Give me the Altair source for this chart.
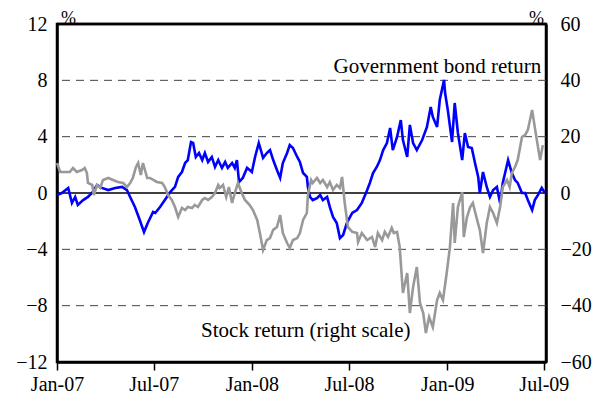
import altair as alt
import pandas as pd

BASE = "2007-01-01"

# Government bond return (left scale, %), days since 2007-01-01
bond_days = [0, 9, 21, 28, 34, 39, 49, 58, 67, 75, 84, 96, 109, 122, 131, 137, 146, 155, 163, 170,
             180, 184, 193, 202, 212, 221, 227, 234, 240, 245, 251, 255, 260, 266, 272, 277, 283, 290,
             296, 302, 309, 315, 320, 328, 333, 337, 341, 348, 356, 361, 365, 371, 378, 386, 393, 399,
             405, 412, 418, 423, 431, 436, 442, 450, 455, 461, 468, 470, 474, 479, 487, 493, 498, 506,
             511, 517, 524, 530, 536, 543, 553, 562, 571, 581, 586, 592, 599, 605, 611, 618, 624, 629,
             637, 644, 648, 656, 661, 667, 674, 684, 693, 700, 704, 712, 717, 725, 727, 732, 740, 745,
             751, 759, 764, 770, 777, 783, 789, 792, 798, 805, 811, 817, 824, 830, 835, 845, 852, 858,
             863, 871, 877, 882, 890, 895, 901, 908, 914]
bond_values = [-0.14, 0.0, 0.36, -0.71, -0.28, -0.85, -0.5, -0.28, 0.07, 0.57, 0.36, 0.21, 0.36, 0.43,
               0.21, -0.28, -0.99, -1.92, -2.77, -2.13, -1.35, -1.42, -0.99, -0.5, 0.07, 0.43, 1.14,
               1.49, 2.13, 2.34, 3.62, 3.55, 2.56, 2.84, 2.34, 2.84, 2.2, 2.56, 1.85, 2.34, 1.78, 2.2,
               1.78, 2.13, 1.78, 2.34, 0.78, 1.07, 1.78, 1.63, 1.49, 2.56, 3.55, 2.49, 2.84, 3.05, 2.34,
               1.63, 1.07, 2.13, 2.84, 3.41, 3.2, 2.56, 2.2, 1.42, 1.14, 0.43, -0.28, -0.5, -0.36, -0.14,
               -0.5, -0.28, -0.99, -1.7, -2.13, -3.2, -2.98, -2.13, -1.42, -1.21, -0.71, 0.21, 0.71,
               1.42, 1.85, 2.34, 3.05, 3.55, 4.62, 3.05, 3.98, 5.18, 3.76, 2.56, 4.83, 3.55, 3.05, 3.76,
               4.69, 6.11, 5.4, 4.69, 6.6, 8.03, 7.1, 5.9, 3.62, 6.39, 4.26, 2.34, 4.26, 3.27, 3.2, 2.13,
               1.14, 0.0, 1.49, 0.43, -0.28, 0.21, 0.43, -0.71, 0.71, 2.34, 1.42, 0.92, 0.71, 0.0, 0.0,
               -0.5, -1.21, -0.5, -0.14, 0.36, 0.0]

# Stock return (right scale, %), days since 2007-01-01
stock_days = [0, 6, 15, 24, 30, 37, 47, 52, 56, 58, 66, 69, 75, 81, 86, 96, 105, 114, 124, 131, 137,
              142, 148, 152, 157, 161, 169, 174, 187, 197, 202, 208, 215, 221, 227, 234, 240, 245, 253,
              258, 264, 272, 277, 283, 290, 296, 302, 305, 311, 317, 322, 328, 333, 339, 346, 352, 361,
              367, 375, 380, 386, 393, 399, 405, 412, 418, 423, 431, 436, 442, 450, 455, 461, 468, 470,
              476, 479, 487, 493, 498, 506, 511, 517, 524, 530, 534, 539, 545, 553, 562, 564, 571, 581,
              590, 596, 601, 609, 614, 620, 627, 631, 637, 642, 648, 656, 661, 667, 674, 680, 686, 691,
              697, 704, 712, 717, 723, 730, 736, 742, 745, 751, 759, 762, 768, 774, 779, 787, 792, 798,
              805, 811, 817, 824, 830, 835, 843, 848, 852, 858, 863, 871, 877, 882, 890, 895, 901, 905,
              910]
stock_values = [10.65, 7.46, 7.46, 7.46, 8.88, 7.46, 8.17, 8.88, 7.1, 3.55, 2.84, -0.71, 2.84, 1.78,
                4.62, 5.33, 4.62, 3.91, 3.55, 2.13, 3.55, 5.33, 9.23, 10.65, 6.39, 10.65, 5.33, 5.33,
                3.91, 3.55, 2.13, -0.71, -2.49, -4.97, -8.52, -5.33, -6.04, -4.97, -5.33, -4.26, -4.97,
                -2.49, -1.78, -2.49, -1.42, 0.0, 2.84, 1.78, 2.84, -1.42, 2.13, -3.55, 0.0, 3.55, 0.0,
                -2.49, -4.26, -6.04, -9.59, -14.2, -20.2, -16.7, -16.0, -13.1, -12.1, -7.81, -14.2,
                -17.75, -19.5, -16.7, -16.0, -14.2, -9.59, -7.1, -0.71, 4.62, 3.55, 5.33, 3.55, 4.62,
                2.13, 3.91, 1.07, 2.84, 1.78, 5.68, -3.55, -12.1, -13.8, -14.2, -17.4, -14.2, -16.7,
                -15.6, -19.2, -14.2, -16.7, -13.8, -15.6, -12.4, -14.2, -13.8, -19.2, -35.5, -28.4,
                -42.6, -33.4, -26.3, -39.1, -42.6, -49.7, -44.0, -47.6, -38.0, -35.5, -38.0, -28.4,
                -19.2, -3.55, -17.75, -4.97, 0.36, -15.6, -8.52, -4.97, -3.55, -9.59, -13.1, -21.3,
                -10.65, -4.97, -7.1, -10.65, -4.97, 2.13, 4.62, 2.13, 7.1, 9.23, 11.7, 19.9, 20.6,
                22.4, 29.5, 23.4, 16.3, 11.7, 17.0]

grid_levels = [8, 4, -4, -8]
top_level = [12]
left_ticks = [-12, -8, -4, 0, 4, 8, 12]
right_ticks = [-60, -40, -20, 0, 20, 40, 60]
x_tick_years = [2007, 2007, 2008, 2008, 2009, 2009]
x_tick_months = [1, 7, 1, 7, 1, 7]

labels = ["Government bond return", "Stock return (right scale)"]
label_dates = ["2009-06-26", "2008-04-11"]
label_values = [8.0, -9.8]

base = pd.Timestamp(BASE)
bond = pd.DataFrame({"date": base + pd.to_timedelta(bond_days, unit="D"), "v": bond_values})
stock = pd.DataFrame({"date": base + pd.to_timedelta(stock_days, unit="D"), "v": stock_values})
grid = pd.DataFrame({"v": grid_levels})
topf = pd.DataFrame({"v": top_level})
zero = pd.DataFrame({"v": [0]})
ann = pd.DataFrame({"t": labels, "date": pd.to_datetime(label_dates), "v": label_values})

FONT = "Liberation Serif"
FRAME_W = 2.5
lscale = alt.Scale(domain=[-12, 12], nice=False, zero=False)
rscale = alt.Scale(domain=[-60, 60], nice=False, zero=False)
xscale = alt.Scale(domain=[alt.DateTime(year=2007, month=1, date=1),
                           alt.DateTime(year=2009, month=7, date=5)], nice=False)

xaxis = alt.Axis(values=[alt.DateTime(year=y, month=m, date=1)
                         for y, m in zip(x_tick_years, x_tick_months)],
                 format="%b-%y", labelFont=FONT, labelFontSize=20, labelColor="black",
                 tickColor="black", tickSize=8, tickWidth=1.5, labelPadding=4,
                 domain=True, domainColor="black", domainWidth=FRAME_W,
                 grid=False, title=None, labelFlush=False)
xenc = alt.X("date:T", scale=xscale, axis=xaxis)

grid_layer = alt.Chart(grid).mark_rule(color="#444444", strokeWidth=1, strokeDash=[8, 6]).encode(
    y=alt.Y("v:Q", scale=lscale, axis=None))
zero_layer = alt.Chart(zero).mark_rule(color="black", strokeWidth=1.3).encode(
    y=alt.Y("v:Q", scale=lscale, axis=None))
top_layer = alt.Chart(topf).mark_rule(color="black", strokeWidth=FRAME_W).encode(
    y=alt.Y("v:Q", scale=lscale, axis=None))

bond_layer = alt.Chart(bond).mark_line(color="#0000FF", strokeWidth=2.6).encode(
    x=xenc,
    y=alt.Y("v:Q", scale=lscale,
            axis=alt.Axis(values=left_ticks, orient="left", ticks=False,
                          domain=True, domainColor="black", domainWidth=FRAME_W, grid=False,
                          labelFont=FONT, labelFontSize=20, labelColor="black", labelPadding=10,
                          title="%", titleAngle=0, titleX=11, titleY=-6, titleFont=FONT,
                          titleFontSize=18, titleFontWeight="normal", titleBaseline="middle",
                          titleAlign="center", titleColor="black")))

stock_layer = alt.Chart(stock).mark_line(color="#999999", strokeWidth=2.6).encode(
    x=xenc,
    y=alt.Y("v:Q", scale=rscale,
            axis=alt.Axis(values=right_ticks, orient="right", ticks=False,
                          domain=True, domainColor="black", domainWidth=FRAME_W, grid=False,
                          labelFont=FONT, labelFontSize=20, labelColor="black", labelPadding=14,
                          title="%", titleAngle=0, titleX=-10, titleY=-6, titleFont=FONT,
                          titleFontSize=18, titleFontWeight="normal", titleBaseline="middle",
                          titleAlign="center", titleColor="black")))

ann1 = alt.Chart(ann.iloc[[0]]).mark_text(font=FONT, fontSize=21, color="black", align="right",
                                          baseline="bottom", dy=-3).encode(
    x=xenc, y=alt.Y("v:Q", scale=lscale, axis=None), text="t:N")
ann2 = alt.Chart(ann.iloc[[1]]).mark_text(font=FONT, fontSize=21, color="black", align="center",
                                          baseline="middle").encode(
    x=xenc, y=alt.Y("v:Q", scale=lscale, axis=None), text="t:N")

chart = alt.layer(grid_layer, zero_layer, top_layer, bond_layer, stock_layer, ann1, ann2).resolve_scale(
    y="independent").properties(
    width=489, height=338,
    padding={"left": 49, "top": 16, "right": 49, "bottom": 37},
    autosize=alt.AutoSizeParams(type="none"),
    background="white",
).configure_view(stroke="black", strokeWidth=2.5)

chart.save("out.html", embed_options={"renderer": "svg", "actions": False})
